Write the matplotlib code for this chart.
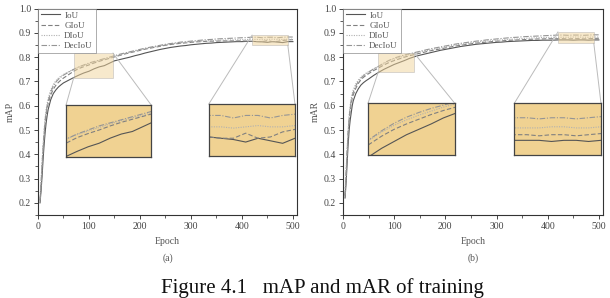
import matplotlib
matplotlib.use("Agg")
import matplotlib.pyplot as plt
from matplotlib.patches import Rectangle, ConnectionPatch
from matplotlib.ticker import MultipleLocator

epochs = [4, 6, 8, 10, 12, 14, 16, 18, 20, 25, 30, 35, 40, 45, 50] + list(range(60, 501, 10))

# Panel (a) mAP
map_iou = [0.20,0.25,0.31,0.38,0.44,0.49,0.53,0.56,0.585,0.625,0.650,0.665,0.677,0.686,0.694,
           0.705,0.716,0.726,0.735,0.742,0.752,0.760,0.765,0.775,0.785,0.790,0.795,0.800,0.806,0.811,
           0.817,0.822,0.827,0.832,0.836,0.840,0.843,0.846,0.848,0.851,0.853,0.855,0.857,0.858,0.860,
           0.861,0.862,0.863,0.864,0.864,0.865,0.865,0.864,0.863,0.861,0.864,0.862,0.860,0.864,0.864]
map_giou = [0.21,0.27,0.34,0.41,0.47,0.52,0.56,0.59,0.61,0.645,0.668,0.684,0.696,0.706,0.714,
            0.728,0.742,0.753,0.761,0.768,0.776,0.783,0.789,0.795,0.801,0.807,0.813,0.818,0.823,0.828,
            0.833,0.837,0.841,0.845,0.849,0.852,0.855,0.857,0.859,0.861,0.863,0.864,0.865,0.866,0.866,
            0.867,0.867,0.867,0.867,0.867,0.866,0.865,0.864,0.864,0.868,0.864,0.865,0.869,0.871,0.872]
map_diou = [0.22,0.29,0.37,0.44,0.50,0.55,0.585,0.61,0.63,0.665,0.688,0.703,0.714,0.722,0.729,
            0.740,0.750,0.759,0.766,0.773,0.780,0.786,0.792,0.797,0.803,0.809,0.815,0.820,0.825,0.830,
            0.835,0.839,0.843,0.847,0.851,0.854,0.857,0.859,0.861,0.863,0.865,0.866,0.867,0.868,0.869,
            0.870,0.871,0.871,0.872,0.872,0.873,0.873,0.873,0.872,0.873,0.874,0.873,0.873,0.874,0.874]
map_deciou = [0.21,0.28,0.36,0.43,0.49,0.54,0.575,0.60,0.62,0.657,0.680,0.697,0.709,0.718,0.726,
              0.738,0.750,0.760,0.768,0.776,0.782,0.788,0.794,0.800,0.806,0.812,0.817,0.822,0.827,0.832,
              0.837,0.841,0.845,0.849,0.853,0.856,0.859,0.862,0.864,0.866,0.868,0.870,0.872,0.873,0.875,
              0.876,0.877,0.878,0.879,0.880,0.881,0.882,0.882,0.880,0.882,0.882,0.880,0.882,0.883,0.883]

# Panel (b) mAR
mar_iou = [0.22,0.28,0.36,0.44,0.50,0.54,0.57,0.60,0.62,0.65,0.67,0.685,0.695,0.703,0.710,
           0.725,0.738,0.750,0.760,0.770,0.778,0.786,0.795,0.802,0.808,0.813,0.818,0.823,0.828,0.832,
           0.836,0.840,0.844,0.847,0.850,0.853,0.855,0.857,0.859,0.861,0.862,0.864,0.865,0.866,0.867,
           0.868,0.869,0.869,0.870,0.870,0.870,0.871,0.871,0.871,0.870,0.871,0.871,0.870,0.871,0.871]
mar_giou = [0.23,0.31,0.40,0.48,0.54,0.58,0.61,0.63,0.645,0.672,0.692,0.707,0.717,0.725,0.732,
            0.745,0.756,0.768,0.778,0.786,0.793,0.800,0.806,0.811,0.816,0.821,0.826,0.830,0.834,0.838,
            0.842,0.846,0.849,0.852,0.855,0.858,0.860,0.862,0.864,0.866,0.867,0.869,0.870,0.871,0.872,
            0.873,0.874,0.875,0.875,0.876,0.876,0.876,0.876,0.875,0.876,0.876,0.875,0.876,0.877,0.878]
mar_diou = [0.24,0.33,0.42,0.50,0.56,0.60,0.63,0.65,0.665,0.690,0.706,0.718,0.727,0.734,0.740,
            0.752,0.762,0.774,0.784,0.792,0.799,0.805,0.811,0.816,0.821,0.826,0.830,0.834,0.838,0.842,
            0.846,0.850,0.853,0.856,0.859,0.862,0.864,0.866,0.868,0.870,0.871,0.873,0.874,0.875,0.877,
            0.878,0.879,0.880,0.881,0.881,0.882,0.882,0.882,0.882,0.883,0.883,0.882,0.882,0.883,0.883]
mar_deciou = [0.23,0.32,0.41,0.49,0.55,0.59,0.62,0.64,0.655,0.682,0.700,0.713,0.723,0.731,0.738,
              0.752,0.763,0.776,0.787,0.796,0.803,0.809,0.814,0.819,0.824,0.829,0.834,0.838,0.842,0.846,
              0.850,0.854,0.857,0.860,0.863,0.866,0.868,0.871,0.873,0.875,0.877,0.879,0.881,0.882,0.884,
              0.885,0.886,0.887,0.888,0.889,0.890,0.891,0.891,0.890,0.891,0.891,0.890,0.891,0.892,0.892]

series_names = ["IoU", "GIoU", "DIoU", "DecIoU"]
styles = [dict(color="#555555", ls="-", lw=0.8),
          dict(color="#808080", ls=(0, (4, 2)), lw=0.8),
          dict(color="#b0b0b0", ls=(0, (1, 1.2)), lw=0.8),
          dict(color="#959595", ls=(0, (5, 1.5, 1, 1.5)), lw=0.8)]

serif = ["Liberation Serif", "DejaVu Serif"]
plt.rcParams["font.family"] = serif

W, H = 610, 298
fig = plt.figure(figsize=(W / 100, H / 100), dpi=100)

panels = [
    dict(rect=[38 / W, 1 - 215 / H, 259 / W, 206.4 / H], data=[map_iou, map_giou, map_diou, map_deciou],
         ylabel="mAP", sub="(a)",
         zooms=[((70, 147, 0.715, 0.817), (55, 0.389, 167, 0.214), "a"),
                ((420, 490, 0.850, 0.891), (335, 0.393, 169, 0.214), "b")]),
    dict(rect=[343 / W, 1 - 215 / H, 260 / W, 206.4 / H], data=[mar_iou, mar_giou, mar_diou, mar_deciou],
         ylabel="mAR", sub="(b)",
         zooms=[((69, 139, 0.740, 0.817), (49, 0.397, 169, 0.214), "a"),
                ((420, 490, 0.858, 0.904), (335, 0.397, 169, 0.214), "b")]),
]

tick_color = "#444444"
for p in panels:
    ax = fig.add_axes(p["rect"])
    for vals, st, name in zip(p["data"], styles, series_names):
        ax.plot(epochs, vals, label=name, **st)
    ax.set_xlim(0, 508)
    ax.set_ylim(0.15, 1.0)
    ax.xaxis.set_major_locator(MultipleLocator(100))
    ax.xaxis.set_minor_locator(MultipleLocator(50))
    ax.yaxis.set_major_locator(MultipleLocator(0.1))
    ax.yaxis.set_minor_locator(MultipleLocator(0.05))
    ax.yaxis.set_major_formatter(matplotlib.ticker.FuncFormatter(lambda v, pos: "%.1f" % v))
    ax.tick_params(axis="both", which="major", direction="out", length=3, width=0.7,
                   labelsize=7, colors=tick_color, pad=2)
    ax.tick_params(axis="both", which="minor", direction="out", length=2, width=0.6, colors=tick_color)
    ax.tick_params(top=False, right=False)
    for s in ax.spines.values():
        s.set_color("#333333")
        s.set_linewidth(0.8)
    ax.set_xlabel("Epoch", fontsize=7, color="#555555", labelpad=4)
    ax.set_ylabel(p["ylabel"], fontsize=7, color="#555555", labelpad=3)
    ax.text(0.5, -0.21, p["sub"], transform=ax.transAxes, ha="center", va="center",
            fontsize=7, color="#555555")
    leg = ax.legend(loc="upper left", fontsize=6.5, frameon=True, fancybox=False,
                    borderaxespad=0.0, handlelength=2.1, handletextpad=0.5,
                    labelspacing=0.2, borderpad=0.3)
    leg.get_frame().set_edgecolor("#888888")
    leg.get_frame().set_linewidth(0.6)
    for t in leg.get_texts():
        t.set_color("#555555")

    for (x0, x1, y0, y1), ipos, side in p["zooms"]:
        ax.add_patch(Rectangle((x0, y0), x1 - x0, y1 - y0, facecolor="#f1d49a", alpha=0.5,
                               edgecolor="#aaaaaa", lw=0.6, zorder=3))
        iax = ax.inset_axes(ipos, transform=ax.transData)
        iax.set_facecolor("#f0d292")
        for vals, st in zip(p["data"], styles):
            iax.plot(epochs, vals, **st)
        iax.set_xlim(x0, x1)
        iax.set_ylim(y0, y1)
        iax.set_xticks([])
        iax.set_yticks([])
        for s in iax.spines.values():
            s.set_color("#444444")
            s.set_linewidth(0.9)
        ix0, iy0, iw, ih = ipos
        if side == "a":
            pairs = [((x0, y0), (ix0, iy0 + ih)), ((x1, y1), (ix0 + iw, iy0 + ih))]
        else:
            pairs = [((x0, y1), (ix0, iy0 + ih)), ((x1, y0), (ix0 + iw, iy0 + ih))]
        for a, b in pairs:
            cp = ConnectionPatch(xyA=a, coordsA=ax.transData, xyB=b, coordsB=ax.transData,
                                 color="#bbbbbb", lw=0.7, zorder=2)
            ax.add_artist(cp)

fig.text(322 / W, 1 - 292.5 / H, "Figure 4.1   mAP and mAR of training", ha="center", va="baseline",
         fontsize=15, color="#111111", family=serif)

fig.savefig("out.png", dpi=100)
